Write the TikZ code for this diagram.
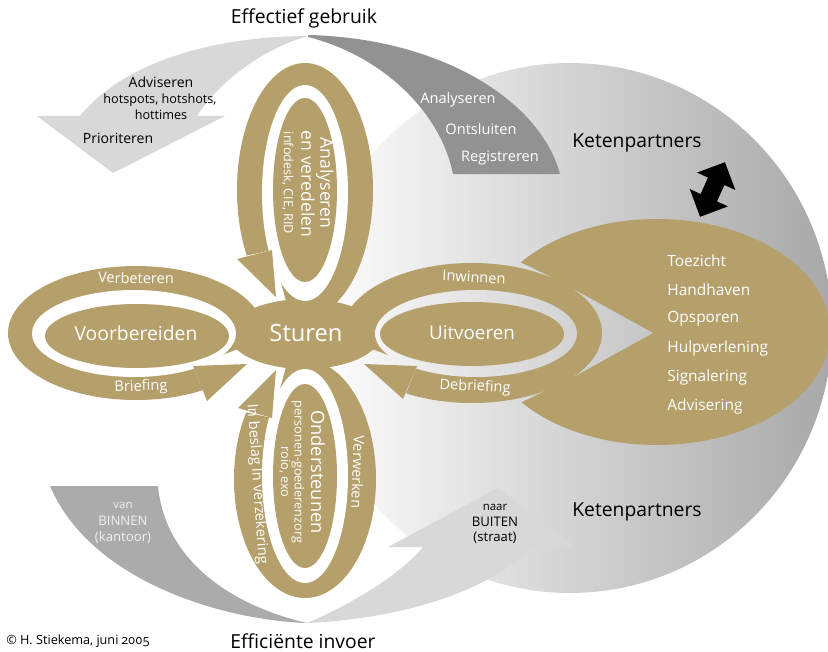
\documentclass[tikz,border=0pt]{standalone}
\usepackage{fontspec}
\setmainfont{Open Sans}
\usetikzlibrary{positioning}
\definecolor{gold}{RGB}{181,160,108}
\definecolor{lightgrey}{RGB}{216,216,216}
\definecolor{darkgrey}{RGB}{146,146,146}
\definecolor{midgrey}{RGB}{171,171,171}
\definecolor{shadegrey}{RGB}{168,168,168}
\newcommand{\setfs}[1]{\fontsize{#1}{#1}\selectfont}
\tikzset{
  bgshade/.style={left color=white, right color=shadegrey},
  headlbl/.style={inner sep=0pt, font=\setfs{11}},
  bandlbl/.style={inner sep=0pt, text=white, font=\setfs{8.3}},
  mainlbl/.style={inner sep=0pt, text=white, font=\setfs{11}},
  smalllbl/.style={inner sep=0pt, font=\setfs{7.2}},
}

\begin{document}
\begin{tikzpicture}[x=0.02cm, y=-0.02cm]
\useasboundingbox (0,0) rectangle (828,652);

%% === Background: ketenpartners and the grey arcs ===
\shade[bgshade] (570,328) ellipse (262 and 265);
% effectief gebruik: light arrow to the left, dark band to the right
\fill[lightgrey] (308,36) .. controls (230,36) and (130,55) .. (80,116)
  -- (37,116) -- (113,173) -- (225,116) -- (197,116)
  .. controls (220,80) and (265,48) .. (308,36) -- cycle;
\fill[darkgrey] (308,35) .. controls (440,38) and (540,100) .. (560,174)
  -- (453,174) .. controls (440,110) and (380,55) .. (308,37) -- cycle;
% efficiente invoer: van binnen, naar buiten
\fill[midgrey] (50,486) -- (158,486) .. controls (165,560) and (230,605) .. (307,623)
  .. controls (220,620) and (90,580) .. (50,486) -- cycle;
\fill[lightgrey] (307,623) .. controls (380,620) and (480,600) .. (532,547)
  -- (575,547) -- (498,488) -- (388,547) -- (423,547)
  .. controls (400,575) and (350,605) .. (307,623) -- cycle;
% double arrow
\fill[black] (724.9,162.2) -- (735.4,190.0) -- (724.4,185.0) -- (717.0,201.4)
  -- (727.9,206.4) -- (700.1,216.8) -- (689.7,189.0) -- (700.6,194.0)
  -- (708.0,177.6) -- (697.1,172.6) -- cycle;

%% === Tasks ellipse ===
\begin{scope}
  \clip (520,150) -- (520,262) -- (547,275) -- (580,293) -- (580,372)
    -- (547,390) -- (520,403) -- (520,480) -- (840,480) -- (840,150) -- cycle;
  \fill[gold] (657,332) ellipse (173 and 113);
\end{scope}
\begin{scope}
  \clip (575,290) -- (653,333) -- (575,376) -- cycle;
  \shade[bgshade] (570,328) ellipse (262 and 265);
\end{scope}

%% === Sturen ===
\fill[gold] (305,334) ellipse (76 and 35);

%% === Left lobe: voorbereiden ===
\begin{scope}
  \clip (0,250) -- (262,250) -- (262,340) -- (193,366) -- (213,416) -- (0,416) -- cycle;
  \fill[gold] (136,333) ellipse (128 and 67);
\end{scope}
\fill[white] (134,333.5) ellipse (102 and 43.5);
\fill[gold] (137,336) ellipse (92 and 32);
\fill[gold] (193,366) -- (247,364) -- (207,401) -- cycle;

%% === Top lobe: analyseren ===
\begin{scope}
  \clip (200,40) -- (420,40) -- (420,330) -- (294,330) -- (272,250) -- (200,266) -- cycle;
  \fill[gold] (305,190) ellipse (68 and 127);
\end{scope}
\fill[white] (305,193) ellipse (43 and 108);
\fill[gold] (305,190) ellipse (32 and 92);
\fill[gold] (237,259) -- (272,250) -- (276,297) -- cycle;

%% === Right lobe: uitvoeren ===
\begin{scope}
  \clip (620,250) -- (348,250) -- (348,340) -- (417,366) -- (397,416) -- (620,416) -- cycle;
  \fill[gold] (472,333) ellipse (130 and 70);
\end{scope}
\begin{scope}
  \clip (476,333.5) ellipse (101 and 43.5);
  \shade[bgshade] (570,328) ellipse (262 and 265);
\end{scope}
\fill[gold] (472,334) ellipse (92 and 32);
\fill[gold] (417,366) -- (364,364) -- (403,399) -- cycle;

%% === Bottom lobe: ondersteunen ===
\begin{scope}
  \clip (200,630) -- (420,630) -- (420,338) -- (294,338) -- (272,418) -- (200,402) -- cycle;
  \fill[gold] (305,479) ellipse (71 and 119);
\end{scope}
\fill[white] (305,476) ellipse (43 and 107);
\fill[gold] (305,476) ellipse (32 and 92);
\fill[gold] (238,408) -- (272,418) -- (276,370) -- cycle;

%% === Labels ===
\node[headlbl] (gebruik) at (304,18) {Effectief gebruik};
\node[headlbl] (invoer) at (303,641) {Efficiënte invoer};
\node[smalllbl, anchor=west] (copy) at (6,641)
  {© H.~Stiekema, juni {\addfontfeatures{Numbers=OldStyle}2005}};
\node[headlbl] (keten1) at (637,143) {Ketenpartners};
\node[headlbl] (keten2) at (637,512) {Ketenpartners};

% grey arcs
\node[inner sep=0pt, font=\setfs{8}] (advis) at (161,82) {Adviseren};
\node[smalllbl] (hot1) at (160,100) {hotspots, hotshots,};
\node[smalllbl] (hot2) at (161,115) {hottimes};
\node[inner sep=0pt, font=\setfs{8}] (prior) at (118,138) {Prioriteren};
\node[bandlbl] (anal) at (458,100) {Analyseren};
\node[bandlbl] (ontsl) at (481,129) {Ontsluiten};
\node[bandlbl] (regis) at (500,158) {Registreren};
\node[smalllbl, text=white!94!black, font=\setfs{6.5}] (van) at (123,505) {van};
\node[smalllbl, text=white!94!black, font=\setfs{7.5}] (binnen) at (123,521) {BINNEN};
\node[smalllbl, text=white!94!black, font=\setfs{7.5}] (kant) at (123,538) {(kantoor)};
\node[smalllbl, font=\setfs{6.5}] (naar) at (495,507) {naar};
\node[smalllbl, font=\setfs{7.5}] (buiten) at (495,522) {BUITEN};
\node[smalllbl, font=\setfs{7.5}] (straat) at (495,538) {(straat)};

% tasks
\foreach \task [count=\i] in {Toezicht,Handhaven,Opsporen,Hulpverlening,Signalering,Advisering}
  \node[bandlbl, font=\setfs{8.8}, anchor=west] (task\i) at (667,231.3+29.2*\i) {\task};

% centre
\node[mainlbl, font=\setfs{13.5}] (sturen) at (306,333) {Sturen};
\node[mainlbl] (voorb) at (136,333) {Voorbereiden};
\node[mainlbl, font=\setfs{10.7}] (uitv) at (472,333) {Uitvoeren};
\node[bandlbl, rotate=-1] (verbet) at (136,278) {Verbeteren};
\node[bandlbl, rotate=2] (brief) at (141,387) {Briefing};
\node[bandlbl, rotate=-3] (inwin) at (474,277) {Inwinnen};
\node[bandlbl, rotate=-2.5] (debrief) at (475,387) {Debriefing};

% rotated lobes
\node[mainlbl, font=\setfs{10}, rotate=-90] (anal1) at (325,183) {Analyseren};
\node[mainlbl, font=\setfs{10}, rotate=-90] (anal2) at (308,184) {en veredelen};
\node[mainlbl, font=\setfs{7.2}, rotate=-90] (anal3) at (288,183) {infodesk, CIE, RID};
\node[mainlbl, font=\setfs{10.4}, rotate=-90] (onder1) at (318,472) {Ondersteunen};
\node[mainlbl, font=\setfs{7.2}, rotate=-90] (onder2) at (298,472) {personen-goederenzorg};
\node[mainlbl, font=\setfs{7.2}, rotate=-90] (onder3) at (285,472) {roio, exo};
\node[bandlbl, rotate=-92] (verw) at (358,472) {Verwerken};
\node[bandlbl, rotate=-86] (beslag) at (257,484) {In beslag In verzekering};

\end{tikzpicture}
\end{document}
